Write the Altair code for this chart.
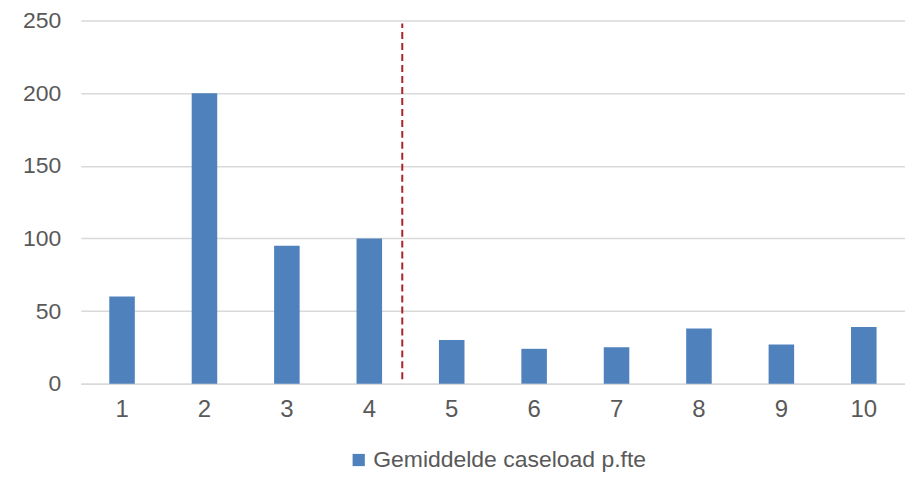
import altair as alt
import pandas as pd

categories = ["1", "2", "3", "4", "5", "6", "7", "8", "9", "10"]
caseload = [60, 200, 95, 100, 30, 24, 25, 38, 27, 39]
series_name = "Gemiddelde caseload p.fte"

divider_after = ["4"]
divider_low = [3]
divider_high = [248]

bars_df = pd.DataFrame({"cat": categories, "value": caseload, "series": [series_name] * len(categories)})
rule_df = pd.DataFrame({"cat": divider_after, "y1": divider_low, "y2": divider_high})

FONT = "Liberation Sans"
GRAY = "#595959"

x_enc = alt.X(
    "cat:O",
    sort=categories,
    scale=alt.Scale(paddingInner=0, paddingOuter=0),
    axis=alt.Axis(
        title=None, labelAngle=0, ticks=False, labelPadding=14,
        labelFontSize=24, labelColor=GRAY, labelFont=FONT,
        domainColor="#d9d9d9", domainWidth=1.5, grid=False,
    ),
)

bars = alt.Chart(bars_df).mark_bar(width=alt.RelativeBandSize(0.31)).encode(
    x=x_enc,
    y=alt.Y(
        "value:Q",
        scale=alt.Scale(domain=[0, 250], nice=False),
        axis=alt.Axis(
            title=None, values=[0, 50, 100, 150, 200, 250], ticks=False, domain=False,
            labelPadding=20, labelFontSize=23, labelColor=GRAY, labelFont=FONT,
            gridColor="#d9d9d9", gridWidth=1.5,
        ),
    ),
    color=alt.Color(
        "series:N",
        scale=alt.Scale(domain=[series_name], range=["#4f81bd"]),
        legend=alt.Legend(
            title=None, orient="none", legendX=267, legendY=429,
            direction="horizontal",
            symbolType="square", symbolSize=150,
            symbolStrokeWidth=0, labelFontSize=23, labelColor=GRAY, labelFont=FONT,
            labelLimit=0, labelOffset=3, padding=0,
        ),
    ),
)

rule = alt.Chart(rule_df).mark_rule(
    color="#a8262b", strokeWidth=2, strokeDash=[7, 4]
).encode(
    x=alt.X("cat:O", sort=categories, bandPosition=0.9),
    y="y1:Q",
    y2="y2:Q",
)

chart = alt.layer(bars, rule).properties(
    width=826,
    height=364,
    autosize=alt.AutoSizeParams(type="none"),
    padding={"left": 73, "top": 12, "right": 0, "bottom": 90},
).configure_view(stroke=None)

chart.save("out.html", embed_options={"renderer": "svg", "actions": False})
